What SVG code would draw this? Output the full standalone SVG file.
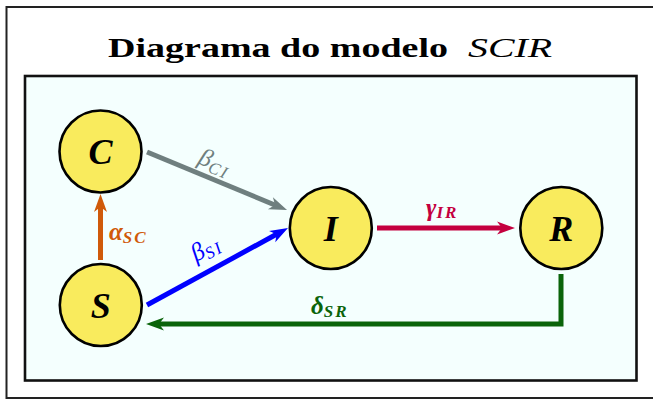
<svg xmlns="http://www.w3.org/2000/svg" width="653" height="399" viewBox="0 0 653 399">
<defs>
<style>
.node circle{fill:#f9eb5d;stroke:#000;stroke-width:2.6}
.node text{font-family:"Liberation Serif",serif;font-weight:bold;font-style:italic;font-size:36px;text-anchor:middle;fill:#000}
.edge{fill:none;stroke-width:5}
.lbl{font-family:"Liberation Serif",serif;font-style:italic;font-size:25px}
.sub{font-size:17px;letter-spacing:2px}
</style>
<marker id="aG" markerUnits="userSpaceOnUse" markerWidth="30" markerHeight="30" viewBox="-15 -15 30 30" refX="0" refY="0" orient="auto"><path d="M10,0 L-8,-6.5 L-3,0 L-8,6.5 Z" fill="#6f7f7f"/></marker>
<marker id="aB" markerUnits="userSpaceOnUse" markerWidth="30" markerHeight="30" viewBox="-15 -15 30 30" refX="0" refY="0" orient="auto"><path d="M10,0 L-8,-6.5 L-3,0 L-8,6.5 Z" fill="#0000ff"/></marker>
<marker id="aO" markerUnits="userSpaceOnUse" markerWidth="30" markerHeight="30" viewBox="-15 -15 30 30" refX="0" refY="0" orient="auto"><path d="M10,0 L-8,-6.5 L-3,0 L-8,6.5 Z" fill="#d05a0a"/></marker>
<marker id="aR" markerUnits="userSpaceOnUse" markerWidth="30" markerHeight="30" viewBox="-15 -15 30 30" refX="0" refY="0" orient="auto"><path d="M10,0 L-8,-6.5 L-3,0 L-8,6.5 Z" fill="#c4003f"/></marker>
<marker id="aV" markerUnits="userSpaceOnUse" markerWidth="30" markerHeight="30" viewBox="-15 -15 30 30" refX="0" refY="0" orient="auto"><path d="M10,0 L-8,-6.5 L-3,0 L-8,6.5 Z" fill="#0a640a"/></marker>
</defs>
<rect x="0" y="0" width="653" height="399" fill="#fff"/>
<path d="M660,7 H6.5 V398 H660" fill="none" stroke="#222" stroke-width="2"/>
<text x="108" y="57" font-family="Liberation Serif,serif" font-weight="bold" font-size="28" textLength="340" lengthAdjust="spacingAndGlyphs">Diagrama do modelo</text>
<text x="468" y="57" font-family="Liberation Serif,serif" font-style="italic" font-size="28" textLength="84" lengthAdjust="spacingAndGlyphs">SCIR</text>
<rect x="25" y="76" width="611.5" height="304.5" fill="#f4fffe" stroke="#111" stroke-width="2.6"/>
<g id="connectors">
<path class="edge" d="M147,152 L277.8,206.2" stroke="#6f7f7f" marker-end="url(#aG)"/>
<path class="edge" d="M147,305 L279.2,232.8" stroke="#0000ff" marker-end="url(#aB)"/>
<path class="edge" d="M100.5,260 L100.5,204" stroke="#d05a0a" marker-end="url(#aO)"/>
<path class="edge" d="M377,228 L505,228" stroke="#c4003f" marker-end="url(#aR)"/>
<path class="edge" d="M561,274 V324 H156" stroke="#0a640a" marker-end="url(#aV)"/>
<text class="lbl" fill="#6f7f7f" transform="translate(197,163) rotate(22.5)">β<tspan class="sub" dy="4">CI</tspan></text>
<text class="lbl" fill="#0000ff" transform="translate(196,262) rotate(-28.6)">β<tspan class="sub" dy="4">SI</tspan></text>
<text class="lbl" fill="#d05a0a" font-weight="bold" x="109" y="240">α<tspan class="sub" dy="3">SC</tspan></text>
<text class="lbl" fill="#c4003f" font-weight="bold" x="426" y="216">γ<tspan class="sub" dy="2">IR</tspan></text>
<text class="lbl" fill="#0a640a" font-weight="bold" x="311" y="314">δ<tspan class="sub" dy="3">SR</tspan></text>
</g>
<g id="node-C" class="node"><circle cx="100.5" cy="151.5" r="41"/><text x="100.5" y="164">C</text></g>
<g id="node-S" class="node"><circle cx="100.8" cy="305" r="41"/><text x="100.8" y="317.5">S</text></g>
<g id="node-I" class="node"><circle cx="330.8" cy="228" r="41"/><text x="330.8" y="240.5">I</text></g>
<g id="node-R" class="node"><circle cx="561.3" cy="228" r="41"/><text x="561.3" y="240.5">R</text></g>
</svg>
